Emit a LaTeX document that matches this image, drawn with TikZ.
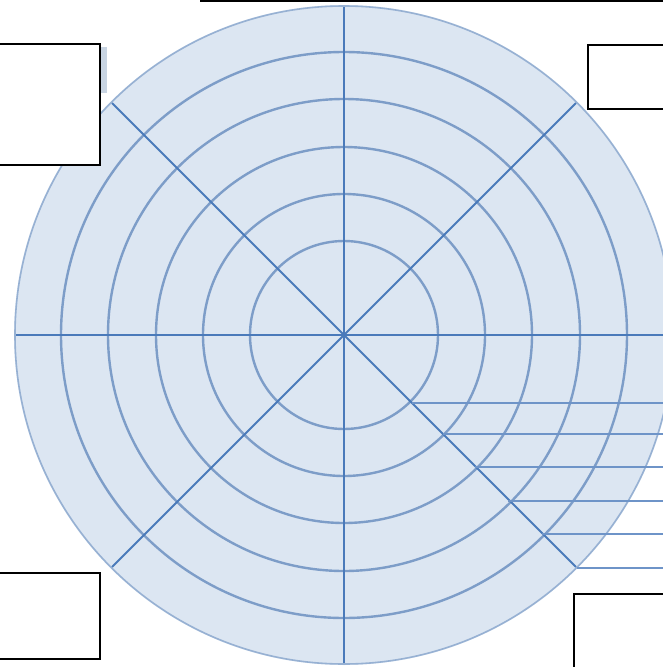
\documentclass[tikz,border=0pt]{standalone}
\usetikzlibrary{calc}
\definecolor{discfill}{RGB}{220,230,242}
\definecolor{ringcol}{RGB}{125,157,200}
\definecolor{spokecol}{RGB}{74,122,186}
\definecolor{leadcol}{RGB}{110,148,200}
\definecolor{tabcol}{RGB}{200,212,226}
\tikzset{
  ring/.style={draw=ringcol, line width=2.4pt},
  spoke/.style={draw=spokecol, line width=1.8pt},
  leader/.style={draw=leadcol, line width=1.4pt},
  labelbox/.style={draw=black, line width=2pt, fill=white, rectangle, inner sep=0pt}
}
\begin{document}
\begin{tikzpicture}[x=1pt,y=-1pt]
\useasboundingbox (0,0) rectangle (663,667);
\clip (0,0) rectangle (663,667);
\coordinate (c) at (344,335);
% disc
\fill[discfill] (c) circle (330);
\draw[draw=ringcol!80, line width=1.6pt] (c) circle (329);
\foreach \r in {94,141,188,236,283}{\draw[ring] (c) circle (\r);}
% spokes
\foreach \a in {0,45,...,315}{\draw[spoke] (c) -- ++(\a:328);}
% leader lines from the lower right spoke
\foreach \y/\x in {403/412,434/443,467/475,501/508,534/542,568/577}{
  \coordinate (s\y) at (\x,\y);
  \coordinate (e\y) at (664,\y);
  \draw[leader] (s\y) -- (e\y);
}
% small tab beside top-left box
\fill[tabcol] (100,47) rectangle (107,93);
% label boxes
\node[labelbox, minimum width=110pt, minimum height=121pt, anchor=north east] (tl) at (101,43) {};
\node[labelbox, minimum width=90pt, minimum height=64pt, anchor=north west] (tr) at (587,44) {};
\node[labelbox, minimum width=110pt, minimum height=86pt, anchor=north east] (bl) at (101,572) {};
\node[labelbox, minimum width=100pt, minimum height=90pt, anchor=north west] (br) at (573,593) {};
% top rule
\coordinate (ta) at (200,1);
\coordinate (tb) at (664,1);
\draw[line width=2pt] (ta) -- (tb);
\end{tikzpicture}
\end{document}
